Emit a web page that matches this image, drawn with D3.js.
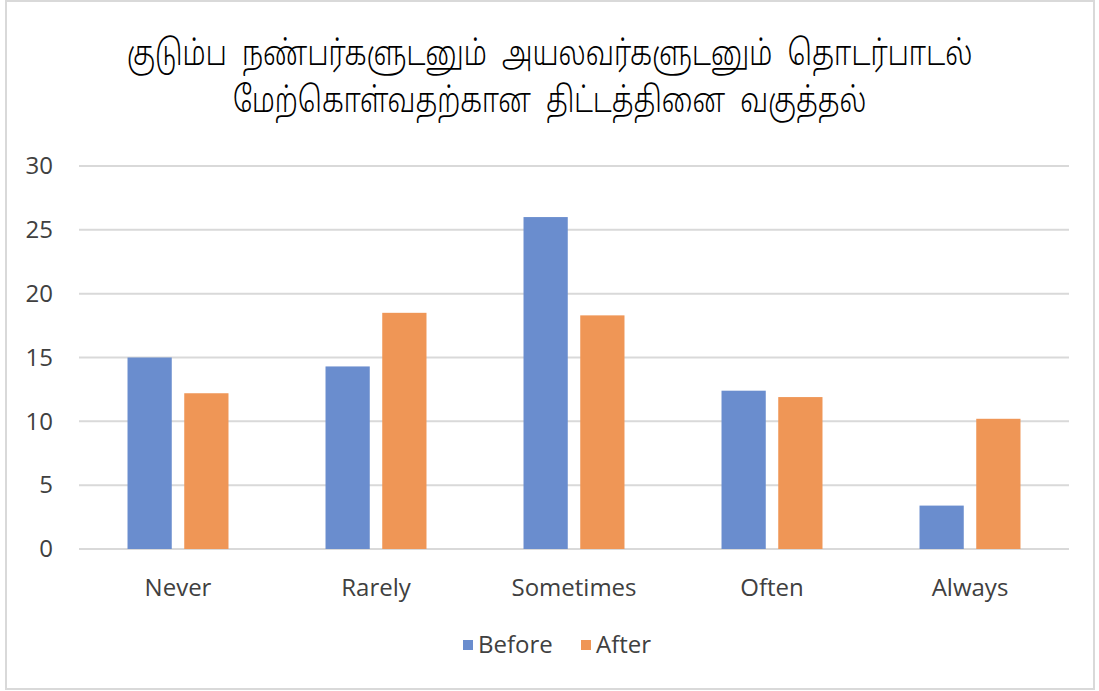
<!DOCTYPE html>
<html>
<head>
<meta charset="utf-8">
<script src="https://cdn.jsdelivr.net/npm/d3@7"></script>
<style>
  html, body { margin: 0; padding: 0; background: #ffffff; }
  svg { display: block; }
  .axis text { font-family: "Open Sans", "Noto Sans", sans-serif; fill: #404040; }
</style>
</head>
<body>
<svg id="chart" width="1099" height="691"></svg>
<script>
// Chart data
const titleLines = [
  "குடும்ப நண்பர்களுடனும் அயலவர்களுடனும் தொடர்பாடல்",
  "மேற்கொள்வதற்கான திட்டத்தினை வகுத்தல்"
];
const titleWidths = [846, 634];
const categories = ["Never", "Rarely", "Sometimes", "Often", "Always"];
const seriesNames = ["Before", "After"];
const beforeValues = [15.0, 14.3, 26.0, 12.4, 3.4];
const afterValues = [12.2, 18.5, 18.3, 11.9, 10.2];
const yTicks = [0, 5, 10, 15, 20, 25, 30];
const seriesColors = ["#6a8dce", "#ef9656"];

const rows = categories.map((c, i) => ({ category: c, Before: beforeValues[i], After: afterValues[i] }));

const W = 1099, H = 691;
const margin = { left: 79, right: 30, top: 166, bottom: 142 };
const plotW = W - margin.left - margin.right;
const plotH = H - margin.top - margin.bottom;

const svg = d3.select("#chart");

// outer frame
svg.append("rect")
  .attr("x", 6).attr("y", 1)
  .attr("width", 1088).attr("height", 688)
  .attr("fill", "#ffffff")
  .attr("stroke", "#d9d9d9").attr("stroke-width", 2);

// title: two centred lines, condensed horizontally to a narrow look
titleLines.forEach((t, i) => {
  const baseY = 65 + i * 47;
  const holder = svg.append("g");
  const txt = holder.append("text")
    .attr("x", 0)
    .attr("y", 0)
    .attr("text-anchor", "middle")
    .attr("font-family", "'Noto Sans Tamil', 'Noto Serif Tamil', 'Lohit Tamil', 'Latha', serif")
    .attr("font-size", 35)
    .attr("font-weight", 300)
    .attr("word-spacing", 10)
    .attr("fill", "#000000")
    .text(t);
  const natural = txt.node().getComputedTextLength() || titleWidths[i];
  const sx = titleWidths[i] / natural;
  holder.attr("transform", `translate(${W / 2},${baseY}) scale(${sx},1)`);
});

const g = svg.append("g").attr("transform", `translate(${margin.left},${margin.top})`);

const y = d3.scaleLinear().domain([0, 30]).range([plotH, 0]);
const x0 = d3.scaleBand().domain(categories).range([0, plotW]).paddingInner(0.49).paddingOuter(0.245);
const x1 = d3.scaleBand().domain(seriesNames).range([0, x0.bandwidth()]).paddingInner(0.22);
const color = d3.scaleOrdinal().domain(seriesNames).range(seriesColors);

// horizontal gridlines
g.append("g")
  .selectAll("line")
  .data(yTicks)
  .join("line")
  .attr("x1", 0).attr("x2", plotW)
  .attr("y1", d => y(d)).attr("y2", d => y(d))
  .attr("stroke", "#d9d9d9").attr("stroke-width", 2);

// y axis labels
const yAxis = g.append("g").attr("class", "axis")
  .call(d3.axisLeft(y).tickValues(yTicks).tickSize(0).tickPadding(26));
yAxis.select(".domain").remove();
yAxis.selectAll("text").attr("font-size", 24);

// bars
g.append("g")
  .selectAll("g")
  .data(rows)
  .join("g")
  .attr("transform", d => `translate(${x0(d.category)},0)`)
  .selectAll("rect")
  .data(d => seriesNames.map(s => ({ key: s, value: d[s] })))
  .join("rect")
  .attr("x", d => x1(d.key))
  .attr("width", x1.bandwidth())
  .attr("y", d => y(d.value))
  .attr("height", d => y(0) - y(d.value))
  .attr("fill", d => color(d.key));

// x axis labels
const xAxis = g.append("g").attr("class", "axis")
  .attr("transform", `translate(0,${plotH})`)
  .call(d3.axisBottom(x0).tickSize(0).tickPadding(30));
xAxis.select(".domain").remove();
xAxis.selectAll("text").attr("font-size", 24);

// legend
const legend = svg.append("g").attr("transform", "translate(463,645)");
const legendItems = legend.selectAll("g")
  .data(seriesNames)
  .join("g")
  .attr("transform", (d, i) => `translate(${i * 118},0)`);
legendItems.append("rect")
  .attr("x", 0).attr("y", -5)
  .attr("width", 10).attr("height", 10)
  .attr("fill", d => color(d));
legendItems.append("text")
  .attr("x", 15).attr("y", 0)
  .attr("dy", "0.35em")
  .attr("font-family", "'Open Sans', 'Noto Sans', sans-serif")
  .attr("font-size", 24)
  .attr("fill", "#404040")
  .text(d => d);
</script>
</body>
</html>
